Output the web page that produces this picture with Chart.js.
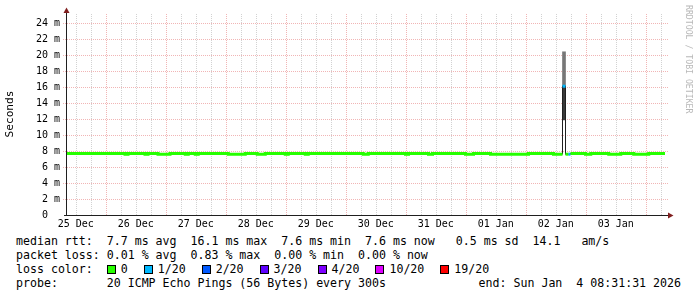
<!DOCTYPE html>
<html>
<head>
<meta charset="utf-8">
<script src="https://cdn.jsdelivr.net/npm/chart.js@4/dist/chart.umd.min.js"></script>
<style>
  body { margin: 0; background: #fff; width: 697px; height: 297px; overflow: hidden; position: relative; }
  #graph { position: absolute; left: 0; top: 0; }
  .legend { position: absolute; left: 16px; top: 234px; width: 665px; font-family: "DejaVu Sans Mono", monospace; font-size: 11.6px; line-height: 14px; color: #000; }
  .legend div { white-space: pre; height: 14px; position: relative; }
  .legend .end { position: absolute; right: 0; top: 0; }
  .box { display: inline-block; width: 7px; height: 7px; border: 1px solid #000; vertical-align: -1px; margin-right: 5px; }
  .item { margin-right: 16px; }
</style>
</head>
<body>
<canvas id="graph" width="697" height="232"></canvas>
<div class="legend">
  <div>median rtt:  7.7 ms avg  16.1 ms max  7.6 ms min  7.6 ms now   0.5 ms sd  14.1   am/s</div>
  <div>packet loss: 0.01 % avg  0.83 % max  0.00 % min  0.00 % now</div>
  <div id="lossRow">loss color:  </div>
  <div>probe:       20 ICMP Echo Pings (56 Bytes) every 300s<span class="end">end: Sun Jan  4 08:31:31 2026</span></div>
</div>
<script>
// x values are hours since the graph start (25 Dec 08:31:31)
const spanHours = 240;
const firstNoon = 3.475;
const dayLabels = ['25 Dec', '26 Dec', '27 Dec', '28 Dec', '29 Dec', '30 Dec', '31 Dec', '01 Jan', '02 Jan', '03 Jan'];

// median rtt in ms, one value per run, run i lasts from runStart[i] to runStart[i+1]
const runStart = [0, 23.2, 24.4, 31.2, 32.4, 36.4, 41.2, 47.3, 48.5, 51.3,
                  52.5, 64.5, 71.3, 76.1, 79.3, 87.3, 88.5, 95.3, 96.5, 118.5,
                  120.5, 135.4, 136.6, 144.6, 146.2, 159.4, 162.6, 169.4, 184.6, 194.6,
                  198.2, 199.4, 200.6, 201.4, 207.4, 209.5, 216.7, 221.5, 226.7, 232.7];
const runMedian = [7.7, 7.6, 7.7, 7.6, 7.7, 7.6, 7.7, 7.6, 7.7, 7.6,
                   7.7, 7.6, 7.7, 7.6, 7.7, 7.6, 7.7, 7.6, 7.7, 7.6,
                   7.7, 7.6, 7.7, 7.6, 7.7, 7.6, 7.7, 7.6, 7.7, 7.6,
                   16.1, 7.6, 7.6, 7.7, 7.6, 7.7, 7.6, 7.7, 7.6, 7.7];
const runLoss = [0, 0, 0, 0, 0, 0, 0, 0, 0, 0,
                 0, 0, 0, 0, 0, 0, 0, 0, 0, 0,
                 0, 0, 0, 0, 0, 0, 0, 0, 0, 0,
                 1, 0, 1, 0, 0, 0, 0, 0, 0, 0];
const lastSample = 239.2;

// smoke (ping spread) around the spike on 02 Jan
const smokeAt = [198.8];
const smokeLow = [11.9];
const smokeMid = [16.1];
const smokeHigh = [20.4];

const lossLabels = ['0', '1/20', '2/20', '3/20', '4/20', '10/20', '19/20'];
const lossColors = ['#26ff00', '#00b8ff', '#0059ff', '#5e00ff', '#7e00ff', '#dd00ff', '#ff0000'];

// legend boxes
const lossRow = document.getElementById('lossRow');
lossLabels.forEach((lbl, i) => {
    const item = document.createElement('span');
    item.className = 'item';
    item.innerHTML = '<span class="box" style="background:' + lossColors[i] + '"></span>' + lbl;
    lossRow.appendChild(item);
});

// two points per run so the line steps like rrdtool
const medianPoints = [];
runStart.forEach((s, i) => {
    const e = i < runStart.length - 1 ? runStart[i + 1] : lastSample;
    medianPoints.push({ x: s, y: runMedian[i] });
    medianPoints.push({ x: e, y: runMedian[i] });
});

const gridMinor = 'rgba(143,143,143,0.4)';
const gridMajor = 'rgba(222,79,79,0.42)';
const monoFont = '"DejaVu Sans Mono", monospace';

// rrdtool style dotted grid, drawn from the scale ticks
const rrdGrid = {
    id: 'rrdGrid',
    beforeDatasetsDraw(chart) {
        const ctx = chart.ctx;
        const a = chart.chartArea;
        const xs = chart.scales.x, ys = chart.scales.y;
        ctx.save();
        ctx.lineWidth = 1;
        ctx.setLineDash([1, 1]);
        xs.ticks.forEach((t, k) => {
            const px = Math.round(xs.getPixelForValue(t.value)) + 0.5;
            ctx.strokeStyle = k % 4 === 2 ? gridMajor : gridMinor;
            ctx.beginPath();
            ctx.moveTo(px, a.bottom);
            ctx.lineTo(px, a.top);
            ctx.stroke();
        });
        ys.ticks.forEach(t => {
            if (t.value === 0) return;
            const py = Math.round(ys.getPixelForValue(t.value)) + 0.5;
            const major = t.value % 2 === 0;
            ctx.strokeStyle = major ? gridMajor : gridMinor;
            ctx.beginPath();
            ctx.moveTo(major ? 63 : a.left, py);
            ctx.lineTo(a.right + 1, py);
            ctx.stroke();
        });
        ctx.restore();
    },
    afterDatasetsDraw(chart) {
        const ctx = chart.ctx;
        const a = chart.chartArea;
        ctx.save();
        ctx.strokeStyle = 'rgb(31,31,31)';
        ctx.lineWidth = 1;
        ctx.beginPath();
        ctx.moveTo(64, 215.5);
        ctx.lineTo(a.right + 1, 215.5);
        ctx.moveTo(66.5, 216);
        ctx.lineTo(66.5, a.top);
        ctx.stroke();
        ctx.fillStyle = 'rgb(128,31,31)';
        ctx.beginPath();
        ctx.moveTo(66.5, 7.5);
        ctx.lineTo(63.5, 13);
        ctx.lineTo(69.5, 13);
        ctx.closePath();
        ctx.fill();
        ctx.beginPath();
        ctx.moveTo(673.5, 215.5);
        ctx.lineTo(668, 212.5);
        ctx.lineTo(668, 218.5);
        ctx.closePath();
        ctx.fill();
        ctx.restore();
    },
    afterDraw(chart) {
        const ctx = chart.ctx;
        ctx.save();
        ctx.fillStyle = '#000';
        ctx.font = '11.2px ' + monoFont;
        ctx.textAlign = 'center';
        ctx.textBaseline = 'middle';
        ctx.translate(10.5, 114);
        ctx.rotate(-Math.PI / 2);
        ctx.fillText('Seconds', 0, 0);
        ctx.restore();

        ctx.save();
        ctx.fillStyle = '#b8b8b8';
        ctx.font = '8.2px ' + monoFont;
        ctx.textAlign = 'left';
        ctx.textBaseline = 'middle';
        ctx.translate(688, 5);
        ctx.rotate(Math.PI / 2);
        ctx.fillText('RRDTOOL / TOBI OETIKER', 0, 0);
        ctx.restore();
    }
};

const ctx = document.getElementById('graph').getContext('2d');
const chart = new Chart(ctx, {
    type: 'line',
    data: {
        datasets: [{
            type: 'line',
            data: medianPoints,
            borderWidth: 3,
            borderCapStyle: 'butt',
            pointRadius: 0,
            tension: 0,
            order: 0,
            segment: {
                borderColor: c => {
                    const r0 = Math.floor(c.p0DataIndex / 2);
                    const r1 = Math.floor(c.p1DataIndex / 2);
                    if (r0 === r1 || runLoss[r0] === runLoss[r1]) return lossColors[runLoss[r0]];
                    return 'transparent';
                }
            }
        }, {
            type: 'line',
            data: medianPoints,
            borderColor: '#202020',
            borderWidth: 1,
            pointRadius: 0,
            tension: 0,
            order: 1
        }, {
            type: 'bar',
            data: smokeAt.map((x, i) => ({ x: x, y: [smokeLow[i], smokeMid[i]] })),
            backgroundColor: '#3a3a3a',
            barThickness: 3,
            grouped: false,
            order: 2
        }, {
            type: 'bar',
            data: smokeAt.map((x, i) => ({ x: x, y: [smokeLow[i], smokeHigh[i]] })),
            backgroundColor: '#777777',
            barThickness: 3,
            grouped: false,
            order: 3
        }]
    },
    options: {
        responsive: false,
        animation: false,
        events: [],
        layout: { padding: { left: 0, right: 30, top: 13, bottom: 0 } },
        plugins: {
            legend: { display: false },
            tooltip: { enabled: false }
        },
        scales: {
            x: {
                type: 'linear',
                min: 0,
                max: spanHours,
                offset: false,
                afterBuildTicks: s => {
                    const t = [];
                    for (let v = firstNoon; v <= spanHours; v += 6) t.push({ value: v });
                    s.ticks = t;
                },
                afterFit: s => { s.height = 17; },
                ticks: {
                    autoSkip: false,
                    maxRotation: 0,
                    padding: 3,
                    color: '#000',
                    font: { family: monoFont, size: 10 },
                    callback: (v, i) => (i % 4 === 0 ? dayLabels[i / 4] : '')
                },
                grid: { display: false, drawTicks: false },
                border: { display: false }
            },
            y: {
                min: 0,
                max: 25.25,
                afterBuildTicks: s => {
                    const t = [];
                    for (let v = 0; v <= 25; v++) t.push({ value: v });
                    s.ticks = t;
                },
                afterFit: s => { s.width = 67; },
                ticks: {
                    padding: 7,
                    color: '#000',
                    font: { family: monoFont, size: 10 },
                    callback: v => (v % 2 !== 0 ? '' : (v === 0 ? '0  ' : v + ' m'))
                },
                grid: { display: false, drawTicks: false },
                border: { display: false }
            }
        }
    },
    plugins: [rrdGrid]
});
</script>
</body>
</html>
